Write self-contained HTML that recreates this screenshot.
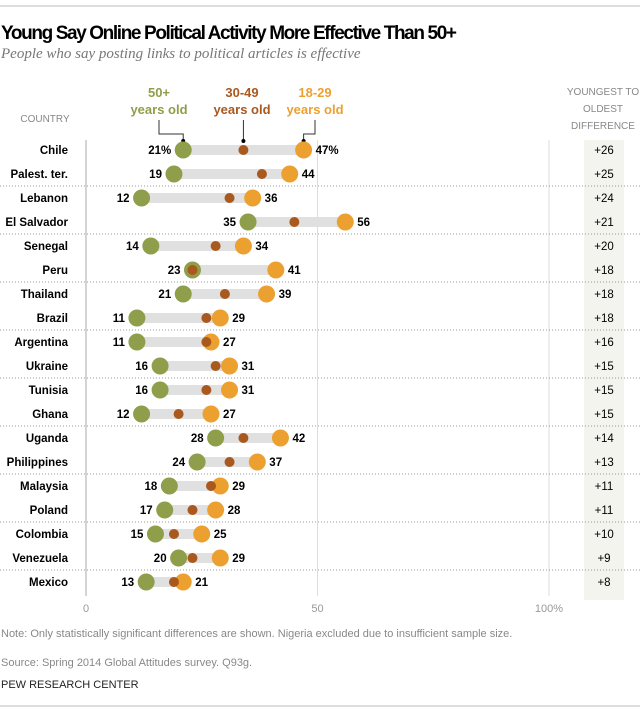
<!DOCTYPE html>
<html><head><meta charset="utf-8"><style>
body{margin:0;background:#fff;}
svg text{font-family:"Liberation Sans",sans-serif;}
</style></head><body>
<svg width="640" height="712">
<line x1="0" y1="6" x2="640" y2="6" stroke="#bbb"/>
<text x="1" y="39" font-size="19" font-weight="bold" fill="#000" textLength="456">Young Say Online Political Activity More Effective Than 50+</text>
<text x="1" y="58" font-size="15" font-style="italic" fill="#777" style="font-family:'Liberation Serif',serif">People who say posting links to political articles is effective</text>
<rect x="584" y="140" width="40" height="460" fill="#f3f4ee"/>
<g font-size="10" fill="#888" text-anchor="middle">
<text x="603" y="95">YOUNGEST TO</text><text x="603" y="112">OLDEST</text><text x="603" y="129">DIFFERENCE</text></g>
<text x="45" y="122" font-size="10" fill="#888" text-anchor="middle">COUNTRY</text>
<g font-size="13" font-weight="bold" text-anchor="middle">
<text x="159" y="97" fill="#8f9e4a">50+</text><text x="159" y="114" fill="#8f9e4a">years old</text>
<text x="242" y="97" fill="#a9581e">30-49</text><text x="242" y="114" fill="#a9581e">years old</text>
<text x="315" y="97" fill="#eca030">18-29</text><text x="315" y="114" fill="#eca030">years old</text>
</g>
<g id="grid"></g>
<g id="rows"></g>
<text x="1" y="637" font-size="11" fill="#888">Note: Only statistically significant differences are shown. Nigeria excluded due to insufficient sample size.</text>
<text x="1" y="666" font-size="11" fill="#888">Source: Spring 2014 Global Attitudes survey. Q93g.</text>
<text x="1" y="688" font-size="11" fill="#222">PEW RESEARCH CENTER</text>
<line x1="0" y1="706" x2="640" y2="706" stroke="#bbb"/>
</svg>
<script>
const countries=["Chile","Palest. ter.","Lebanon","El Salvador","Senegal","Peru","Thailand","Brazil","Argentina","Ukraine","Tunisia","Ghana","Uganda","Philippines","Malaysia","Poland","Colombia","Venezuela","Mexico"];
const old50=[21,19,12,35,14,23,21,11,11,16,16,12,28,24,18,17,15,20,13];
const mid30=[34,38,31,45,28,23,30,26,26,28,26,20,34,31,27,23,19,23,19];
const young18=[47,44,36,56,34,41,39,29,27,31,31,27,42,37,29,28,25,29,21];
const diffs=["+26","+25","+24","+21","+20","+18","+18","+18","+16","+15","+15","+15","+14","+13","+11","+11","+10","+9","+8"];
const ticks=[0,50,100];
const tickLabels=["0","50","100%"];
const NS="http://www.w3.org/2000/svg";
const x=v=>86+v*4.63;
const y=i=>150+i*24;
function mk(p,tag,at){const e=document.createElementNS(NS,tag);for(const k in at)e.setAttribute(k,at[k]);p.appendChild(e);return e;}
const g=document.getElementById('grid'),r=document.getElementById('rows');
ticks.forEach((t,i)=>{
 const l=mk(g,'line',{x1:x(t),x2:x(t),y1:140,y2:596,stroke:t===0?'#aaa':'#ddd'});
 
 
 const tx=mk(g,'text',{x:x(t),y:612,'font-size':11,fill:'#999','text-anchor':'middle'});tx.textContent=tickLabels[i];
 
 
});
for(let i=2;i<countries.length;i+=2){
 const l=mk(g,'line',{x1:0,x2:640,y1:y(i)-12,y2:y(i)-12,stroke:'#999','stroke-dasharray':'1,2'});
 
 
}
countries.forEach((c,i)=>{
 const cy=y(i);const pct=i===0?'%':'';
 const row=mk(r,'g',{});
 
 
 const lab=mk(row,'text',{x:68,y:cy+4,'font-size':11.5,'font-weight':'bold','text-anchor':'end'});lab.textContent=c;
 
 
 const bar=mk(row,'rect',{x:x(old50[i]),y:cy-5,width:x(young18[i])-x(old50[i]),height:10,fill:'#e0e0e0'});
 
 
 const o=mk(row,'circle',{cx:x(old50[i]),cy:cy,r:8.5,fill:'#8f9e4a'});
 
 
 const yg=mk(row,'circle',{cx:x(young18[i]),cy:cy,r:8.5,fill:'#eca030'});
 
 
 const m=mk(row,'circle',{cx:x(mid30[i]),cy:cy,r:5,fill:'#a9581e'});
 
 
 const t1=mk(row,'text',{x:x(old50[i])-12,y:cy+4,'font-size':11.5,'font-weight':'bold','text-anchor':'end'});t1.textContent=old50[i]+pct;
 
 
 const t2=mk(row,'text',{x:x(young18[i])+12,y:cy+4,'font-size':11.5,'font-weight':'bold'});t2.textContent=young18[i]+pct;
 
 
 const d=mk(row,'text',{x:604,y:cy+4,'font-size':11.5,'text-anchor':'middle'});d.textContent=diffs[i];
 
 
});
[[x(old50[0]),159],[x(mid30[0]),242],[x(young18[0]),315]].forEach(([px,lx])=>{
 const p=mk(g,'polyline',{points:`${lx},120 ${lx},134 ${px},134 ${px},141`,fill:'none',stroke:'#333','stroke-width':1});
 if(lx===242)p.setAttribute('points',`${px},120 ${px},141`);
 
 
 const dt=mk(g,'circle',{cx:px,cy:141,r:2,fill:'#000'});
 
 
});
</script>
</body></html>
